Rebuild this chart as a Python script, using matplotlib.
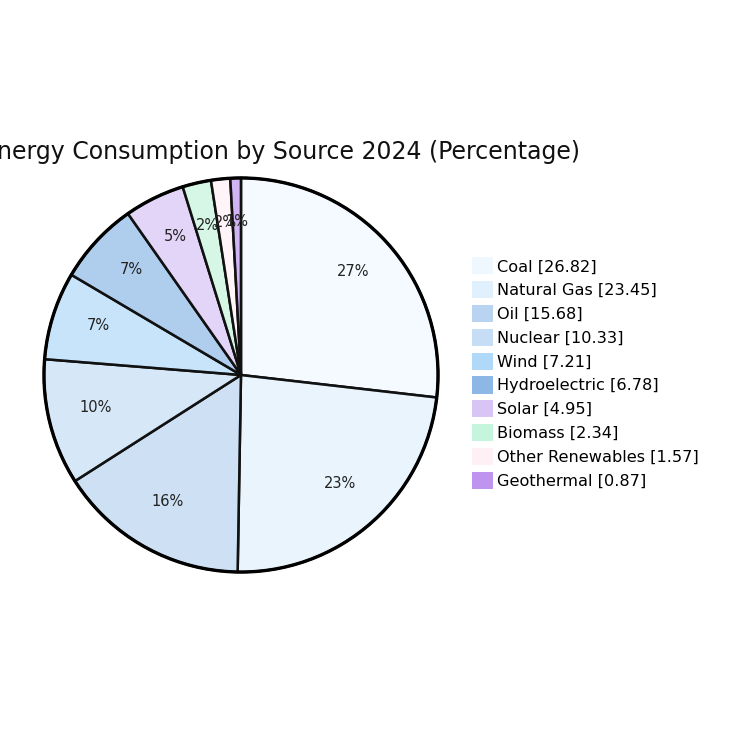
import matplotlib.pyplot as plt
from matplotlib.patches import Patch
from matplotlib.colors import to_rgba
from matplotlib.transforms import ScaledTranslation

sources = ['Coal', 'Natural Gas', 'Oil', 'Nuclear', 'Wind', 'Hydroelectric',
           'Solar', 'Biomass', 'Other Renewables', 'Geothermal']
shares = [26.82, 23.45, 15.68, 10.33, 7.21, 6.78, 4.95, 2.34, 1.57, 0.87]
colors = ['#f0f8ff', '#e0f0fc', '#b8d4f0', '#c5def5', '#b0d9f9',
          '#8db8e6', '#d8c4f5', '#c5f5dc', '#fff0f6', '#be94ee']

fig = plt.figure(figsize=(7.5, 7.5), dpi=100)
ax = fig.add_axes([42 / 750, (750 - 375 - 199) / 750, 398 / 750, 398 / 750])

# slices drawn at 70% opacity, edges stay solid black
faded = [to_rgba(c, 0.7) for c in colors]
wedges, texts, autotexts = ax.pie(
    shares, colors=faded, startangle=90, counterclock=False,
    autopct=lambda p: '%d%%' % round(p), pctdistance=0.76,
    wedgeprops=dict(edgecolor='#111111', linewidth=1.8),
    textprops=dict(fontsize=10.5, color='#222222'))
shift = ScaledTranslation(0, 4 / 100, fig.dpi_scale_trans)
for t in autotexts:
    t.set_transform(t.get_transform() + shift)
ax.add_patch(plt.Circle((0, 0), 1.0, fill=False, edgecolor='#000000', linewidth=2.4))
ax.set_xlim(-1.01, 1.01)
ax.set_ylim(-1.01, 1.01)
ax.set_aspect('equal')

fig.text(580 / 750, 1 - 152 / 750, 'Energy Consumption by Source 2024 (Percentage)',
         ha='right', va='center', fontsize=17, color='#111111')

handles = [Patch(facecolor=c, edgecolor='none') for c in colors]
labels = ['%s [%.2f]' % (s, v) for s, v in zip(sources, shares)]
fig.legend(handles, labels, loc='upper left', bbox_to_anchor=(466 / 750, 1 - 251 / 750),
           frameon=False, fontsize=11.6, handlelength=1.25, handleheight=1.25,
           handletextpad=0.3, labelspacing=0.42, borderaxespad=0)

fig.savefig('out.png', dpi=100)
